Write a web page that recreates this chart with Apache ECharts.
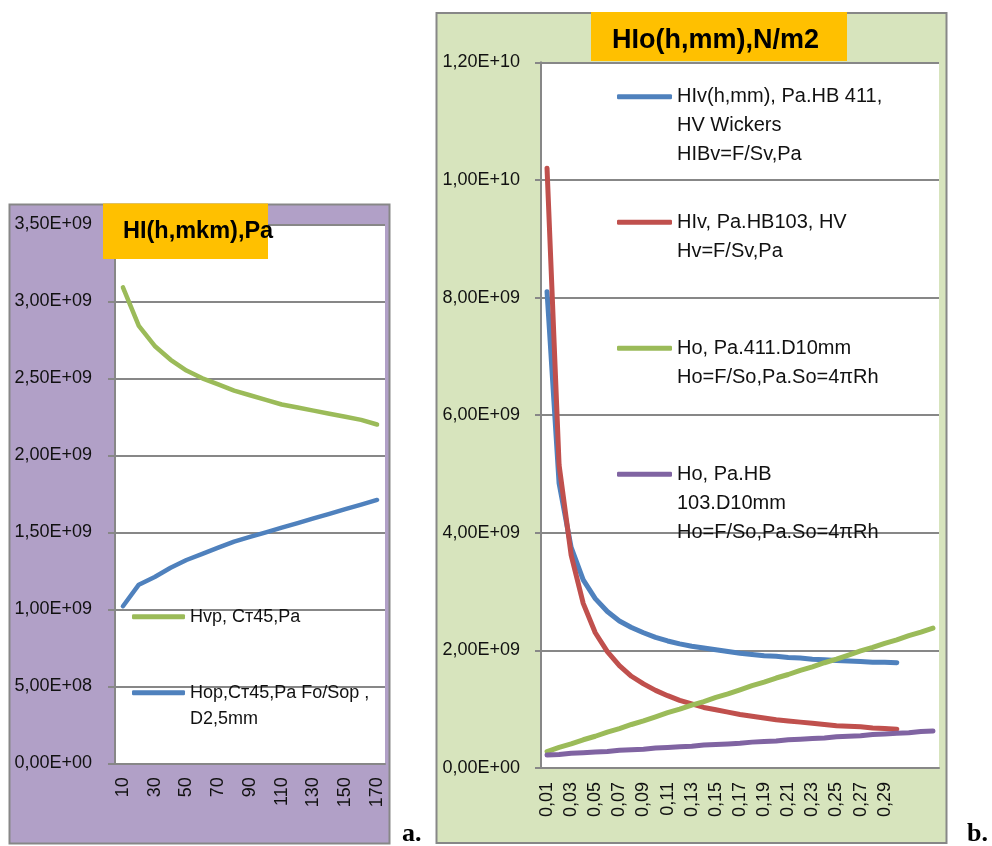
<!DOCTYPE html>
<html>
<head>
<meta charset="utf-8">
<title>HI(h,mkm),Pa / HIo(h,mm),N/m2</title>
<script src="https://cdn.jsdelivr.net/npm/echarts@6/dist/echarts.min.js"></script>
<style>
    html, body { margin: 0; padding: 0; background: #fff; }
    #chart { width: 992px; height: 846px; }
</style>
</head>
<body>
<div id="chart"></div>
<script>
    // all values are in units of 1E+09 Pa
    var hMkm = ['10', '20', '30', '40', '50', '60', '70', '80', '90', '100',
                '110', '120', '130', '140', '150', '160', '170'];
    var hvpSt45 = [3.09, 2.84, 2.71, 2.62, 2.55, 2.50, 2.46, 2.42, 2.39, 2.36,
                   2.33, 2.31, 2.29, 2.27, 2.25, 2.23, 2.20];
    var hopSt45 = [1.02, 1.16, 1.21, 1.27, 1.32, 1.36, 1.40, 1.44, 1.47, 1.50,
                   1.53, 1.56, 1.59, 1.62, 1.65, 1.68, 1.71];

    var hMm = ['0,01', '0,02', '0,03', '0,04', '0,05', '0,06', '0,07', '0,08', '0,09', '0,10',
               '0,11', '0,12', '0,13', '0,14', '0,15', '0,16', '0,17', '0,18', '0,19', '0,20',
               '0,21', '0,22', '0,23', '0,24', '0,25', '0,26', '0,27', '0,28', '0,29', '0,30',
               '', '', ''];
    var hlvHB411 = [8.10, 4.84, 3.75, 3.20, 2.88, 2.66, 2.50, 2.39, 2.30, 2.22,
                    2.16, 2.11, 2.07, 2.04, 2.01, 1.98, 1.95, 1.93, 1.91, 1.90,
                    1.88, 1.87, 1.85, 1.84, 1.83, 1.82, 1.81, 1.80, 1.80, 1.79];
    var hlvHB103 = [10.20, 5.15, 3.62, 2.80, 2.30, 1.98, 1.74, 1.56, 1.43, 1.32,
                    1.23, 1.15, 1.09, 1.03, 0.99, 0.95, 0.91, 0.88, 0.85, 0.82,
                    0.80, 0.78, 0.76, 0.74, 0.72, 0.71, 0.70, 0.68, 0.67, 0.66];
    var hoHB411 = [0.28, 0.35, 0.41, 0.48, 0.54, 0.61, 0.67, 0.74, 0.80, 0.87,
                   0.94, 1.00, 1.07, 1.13, 1.20, 1.26, 1.33, 1.40, 1.46, 1.53,
                   1.59, 1.66, 1.72, 1.79, 1.85, 1.92, 1.99, 2.05, 2.12, 2.18,
                   2.25, 2.31, 2.38];
    var hoHB103 = [0.22, 0.23, 0.25, 0.26, 0.27, 0.28, 0.30, 0.31, 0.32, 0.34,
                   0.35, 0.36, 0.37, 0.39, 0.40, 0.41, 0.42, 0.44, 0.45, 0.46,
                   0.48, 0.49, 0.50, 0.51, 0.53, 0.54, 0.55, 0.57, 0.58, 0.59,
                   0.60, 0.62, 0.63];

    var namesA = ['Hvp, Ст45,Pa', 'Hop,Ст45,Pa Fo/Sop ,\nD2,5mm'];
    var namesB = ['HIv(h,mm), Pa.HB 411,\nHV Wickers\nHIBv=F/Sv,Pa',
                  'HIv, Pa.HB103, HV\nHv=F/Sv,Pa',
                  'Ho, Pa.411.D10mm\nHo=F/So,Pa.So=4πRh',
                  'Ho, Pa.HB\n103.D10mm\nHo=F/So,Pa.So=4πRh'];

    var FONT = '"Liberation Sans", Arial, sans-serif';
    var GRAY = '#878787';
    var BLUE = '#4F81BD', RED = '#C0504D', GREEN = '#9BBB59', PURPLE = '#8064A2';

    // 3.5 -> "3,50E+09"
    function sci(v) {
        var p = (v * 1e9).toExponential(2).split('e');
        var e = parseInt(p[1], 10);
        var a = Math.abs(e);
        return p[0].replace('.', ',') + 'E' + (e < 0 ? '-' : '+') + (a < 10 ? '0' : '') + a;
    }

    // one legend per item; empty lines on top keep the marker on the first text line
    function legendItem(name, left, iconY, fontSize, lh, iconW) {
        var n = name.split('\n').length;
        var pad = new Array(n).join('\n');
        return {
            data: [name],
            left: left,
            top: iconY - (2 * n - 1) * lh / 2,
            padding: 0,
            selectedMode: false,
            icon: 'roundRect',
            itemWidth: iconW,
            itemHeight: 5,
            formatter: function (s) { return pad + s; },
            textStyle: { fontFamily: FONT, fontSize: fontSize, lineHeight: lh, color: '#111' }
        };
    }

    function yAxis(gridIndex, max, interval, fontSize, margin, tickLen) {
        return {
            type: 'value', gridIndex: gridIndex, min: 0, max: max, interval: interval,
            axisLine: { show: true, lineStyle: { color: GRAY, width: 2 } },
            axisTick: { show: true, length: tickLen, lineStyle: { color: GRAY, width: 2 } },
            splitLine: { lineStyle: { color: GRAY, width: 2 } },
            axisLabel: { formatter: sci, fontFamily: FONT, fontSize: fontSize, color: '#111', margin: margin }
        };
    }

    function xAxis(gridIndex, data) {
        return {
            type: 'category', gridIndex: gridIndex, data: data, boundaryGap: true,
            axisLine: { lineStyle: { color: GRAY, width: 2 } },
            axisTick: { interval: 0, length: 5, lineStyle: { color: GRAY, width: 2 } },
            axisLabel: { interval: 1, rotate: 90, fontFamily: FONT, fontSize: 18, color: '#111', margin: 14 }
        };
    }

    function line(name, axis, data, color, width) {
        return {
            name: name, type: 'line', xAxisIndex: axis, yAxisIndex: axis, data: data,
            symbol: 'none', color: color,
            lineStyle: { color: color, width: width, cap: 'round', join: 'round' }
        };
    }

    var chart = echarts.init(document.getElementById('chart'), null, { renderer: 'canvas' });
    chart.setOption({
        backgroundColor: '#fff',
        animation: false,
        title: [
            { text: 'HI(h,mkm),Pa', left: 123, top: 217, padding: 0, z: 200,
              textStyle: { fontFamily: FONT, fontWeight: 'bold', fontSize: 23.5, lineHeight: 30, color: '#000' } },
            { text: 'HIo(h,mm),N/m2', left: 612, top: 23.5, padding: 0, z: 200,
              textStyle: { fontFamily: FONT, fontWeight: 'bold', fontSize: 27, lineHeight: 34, color: '#000' } }
        ],
        graphic: [
            { type: 'rect', z: -10, shape: { x: 9.5, y: 204.5, width: 380, height: 639 },
              style: { fill: '#B1A0C7', stroke: GRAY, lineWidth: 2 } },
            { type: 'rect', z: -10, shape: { x: 436.5, y: 13, width: 510, height: 830 },
              style: { fill: '#D7E4BD', stroke: GRAY, lineWidth: 2 } },
            { type: 'rect', z: 100, shape: { x: 103, y: 203.5, width: 165, height: 55.5 },
              style: { fill: '#FFC000' } },
            { type: 'rect', z: 100, shape: { x: 591, y: 12, width: 256, height: 49 },
              style: { fill: '#FFC000' } },
            { type: 'text', z: 100, style: { text: 'a.', x: 402, y: 834, verticalAlign: 'middle',
              font: 'bold 26px "Liberation Serif", "Times New Roman", serif', fill: '#000' } },
            { type: 'text', z: 100, style: { text: 'b.', x: 967, y: 834, verticalAlign: 'middle',
              font: 'bold 26px "Liberation Serif", "Times New Roman", serif', fill: '#000' } }
        ],
        legend: [
            legendItem(namesA[0], 132, 616.7, 18, 26, 53),
            legendItem(namesA[1], 132, 692.7, 18, 26, 53),
            legendItem(namesB[0], 617, 96.7, 20, 29, 55),
            legendItem(namesB[1], 617, 222.3, 20, 29, 55),
            legendItem(namesB[2], 617, 348.3, 20, 29, 55),
            legendItem(namesB[3], 617, 474.3, 20, 29, 55)
        ],
        grid: [
            { left: 115, top: 224.3, width: 270, height: 539, show: true, backgroundColor: '#fff', borderWidth: 0 },
            { left: 541, top: 62.3, width: 398, height: 705.7, show: true, backgroundColor: '#fff', borderWidth: 0 }
        ],
        xAxis: [xAxis(0, hMkm), xAxis(1, hMm)],
        yAxis: [yAxis(0, 3.5, 0.5, 18, 23, 7), yAxis(1, 12, 2, 18, 21, 6)],
        series: [
            line(namesA[0], 0, hvpSt45, GREEN, 4.5),
            line(namesA[1], 0, hopSt45, BLUE, 4.5),
            line(namesB[0], 1, hlvHB411, BLUE, 5),
            line(namesB[1], 1, hlvHB103, RED, 5),
            line(namesB[2], 1, hoHB411, GREEN, 5),
            line(namesB[3], 1, hoHB103, PURPLE, 5)
        ]
    });
</script>
</body>
</html>
